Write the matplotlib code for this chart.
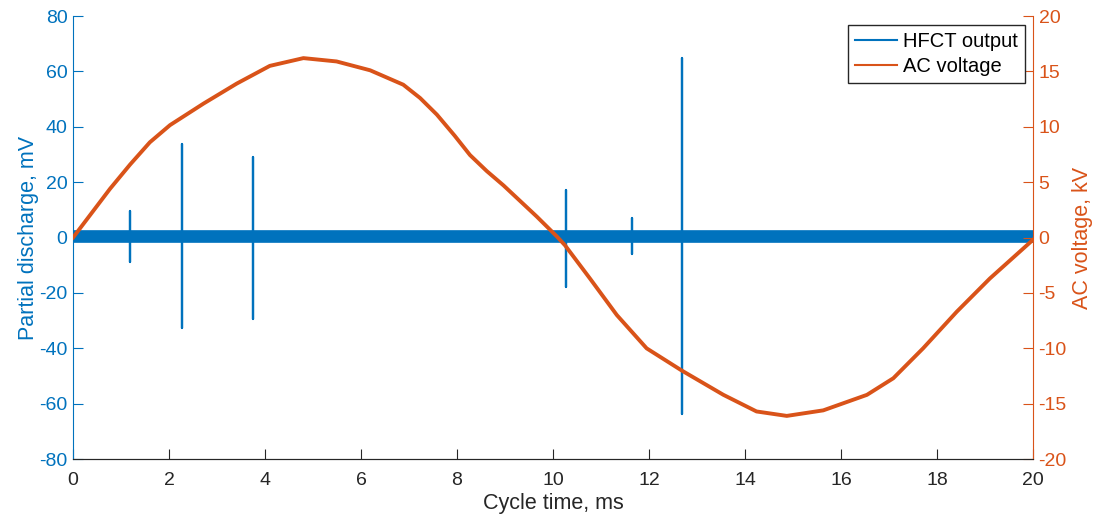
import numpy as np
import matplotlib
matplotlib.use('Agg')
import matplotlib.pyplot as plt

plt.rcParams['font.family'] = ['Liberation Sans', 'DejaVu Sans']
plt.rcParams['axes.unicode_minus'] = False

# AC voltage (ms, kV)
ac_t = [0.0, 0.35, 0.77, 1.19, 1.60, 2.02, 2.72, 3.41, 4.10, 4.80, 5.49, 6.19,
        6.88, 7.23, 7.58, 7.95, 8.27, 8.62, 8.97, 9.66, 10.08, 10.25, 10.77,
        11.33, 11.95, 12.68, 13.55, 14.24, 14.87, 15.63, 16.54, 17.09, 17.71,
        18.41, 19.10, 20.0]
ac_kv = [0.0, 2.0, 4.4, 6.6, 8.6, 10.15, 12.1, 13.9, 15.5, 16.2, 15.9, 15.1,
         13.8, 12.6, 11.1, 9.2, 7.45, 6.0, 4.7, 1.9, 0.1, -0.7, -3.7,
         -7.0, -10.0, -12.0, -14.2, -15.7, -16.1, -15.6, -14.2, -12.7, -10.0,
         -6.7, -3.7, -0.2]

# partial discharge pulses (ms, positive peak mV, negative peak mV)
pd_t = [1.19, 2.27, 3.75, 10.27, 11.65, 12.69]
pd_pos = [9.6, 33.8, 29.0, 17.1, 7.0, 64.8]
pd_neg = [-8.8, -32.7, -29.4, -17.9, -6.0, -63.7]

# background noise band of the HFCT signal (mV)
noise_t = [0.0, 20.0]
noise_hi = [2.2, 2.2]
noise_lo = [-1.7, -1.7]

blue = '#0072BD'
orange = '#D95319'
dark = '#262626'

# build the HFCT trace from the pulse list
hf_t, hf_v = [0.0], [0.0]
for t, p, n in zip(pd_t, pd_pos, pd_neg):
    hf_t += [t, t, t, t]
    hf_v += [0.0, p, n, 0.0]
hf_t.append(20.0)
hf_v.append(0.0)

fig = plt.figure(figsize=(11, 5.17), dpi=100)
ax = fig.add_axes([0.0664, 0.112, 0.8727, 0.857])
ax2 = ax.twinx()

ax.fill_between(noise_t, noise_lo, noise_hi, color=blue, lw=1.2)
hfct, = ax.plot(hf_t, hf_v, color=blue, lw=1.6)
acl, = ax2.plot(ac_t, ac_kv, color=orange, lw=2.8, solid_joinstyle='round')

ax.set_xlim(0, 20)
ax.set_ylim(-80, 80)
ax2.set_ylim(-20, 20)
ax.set_xticks(np.arange(0, 21, 2))
ax.set_yticks(np.arange(-80, 81, 20))
ax2.set_yticks(np.arange(-20, 21, 5))

for a in (ax, ax2):
    a.spines['top'].set_visible(False)
    a.spines['bottom'].set_color(dark)
ax.spines['left'].set_color(blue)
ax.spines['right'].set_visible(False)
ax2.spines['left'].set_visible(False)
ax2.spines['right'].set_color(orange)

ax.tick_params(axis='x', direction='in', length=7, colors=dark, labelsize=14, pad=9)
ax.tick_params(axis='y', direction='in', length=7, colors=blue, labelsize=14, pad=4)
ax2.tick_params(axis='y', direction='in', length=7, colors=orange, labelsize=14, pad=4)

ax.set_xlabel('Cycle time, ms', fontsize=15.5, color=dark, labelpad=3)
ax.set_ylabel('Partial discharge, mV', fontsize=15.5, color=blue, labelpad=0)
ax2.set_ylabel('AC voltage, kV', fontsize=15.5, color=orange, labelpad=4)

leg = ax2.legend([hfct, acl], ['HFCT output', 'AC voltage'], loc='upper right',
                 bbox_to_anchor=(0.992, 0.98), fontsize=14.5, fancybox=False,
                 framealpha=1, edgecolor=dark, handlelength=2.1,
                 handletextpad=0.3, borderpad=0.35, labelspacing=0.3,
                 borderaxespad=0)
leg.get_frame().set_linewidth(1.0)
for h in leg.get_lines():
    h.set_linewidth(1.5)

fig.savefig('out.png', dpi=100)
